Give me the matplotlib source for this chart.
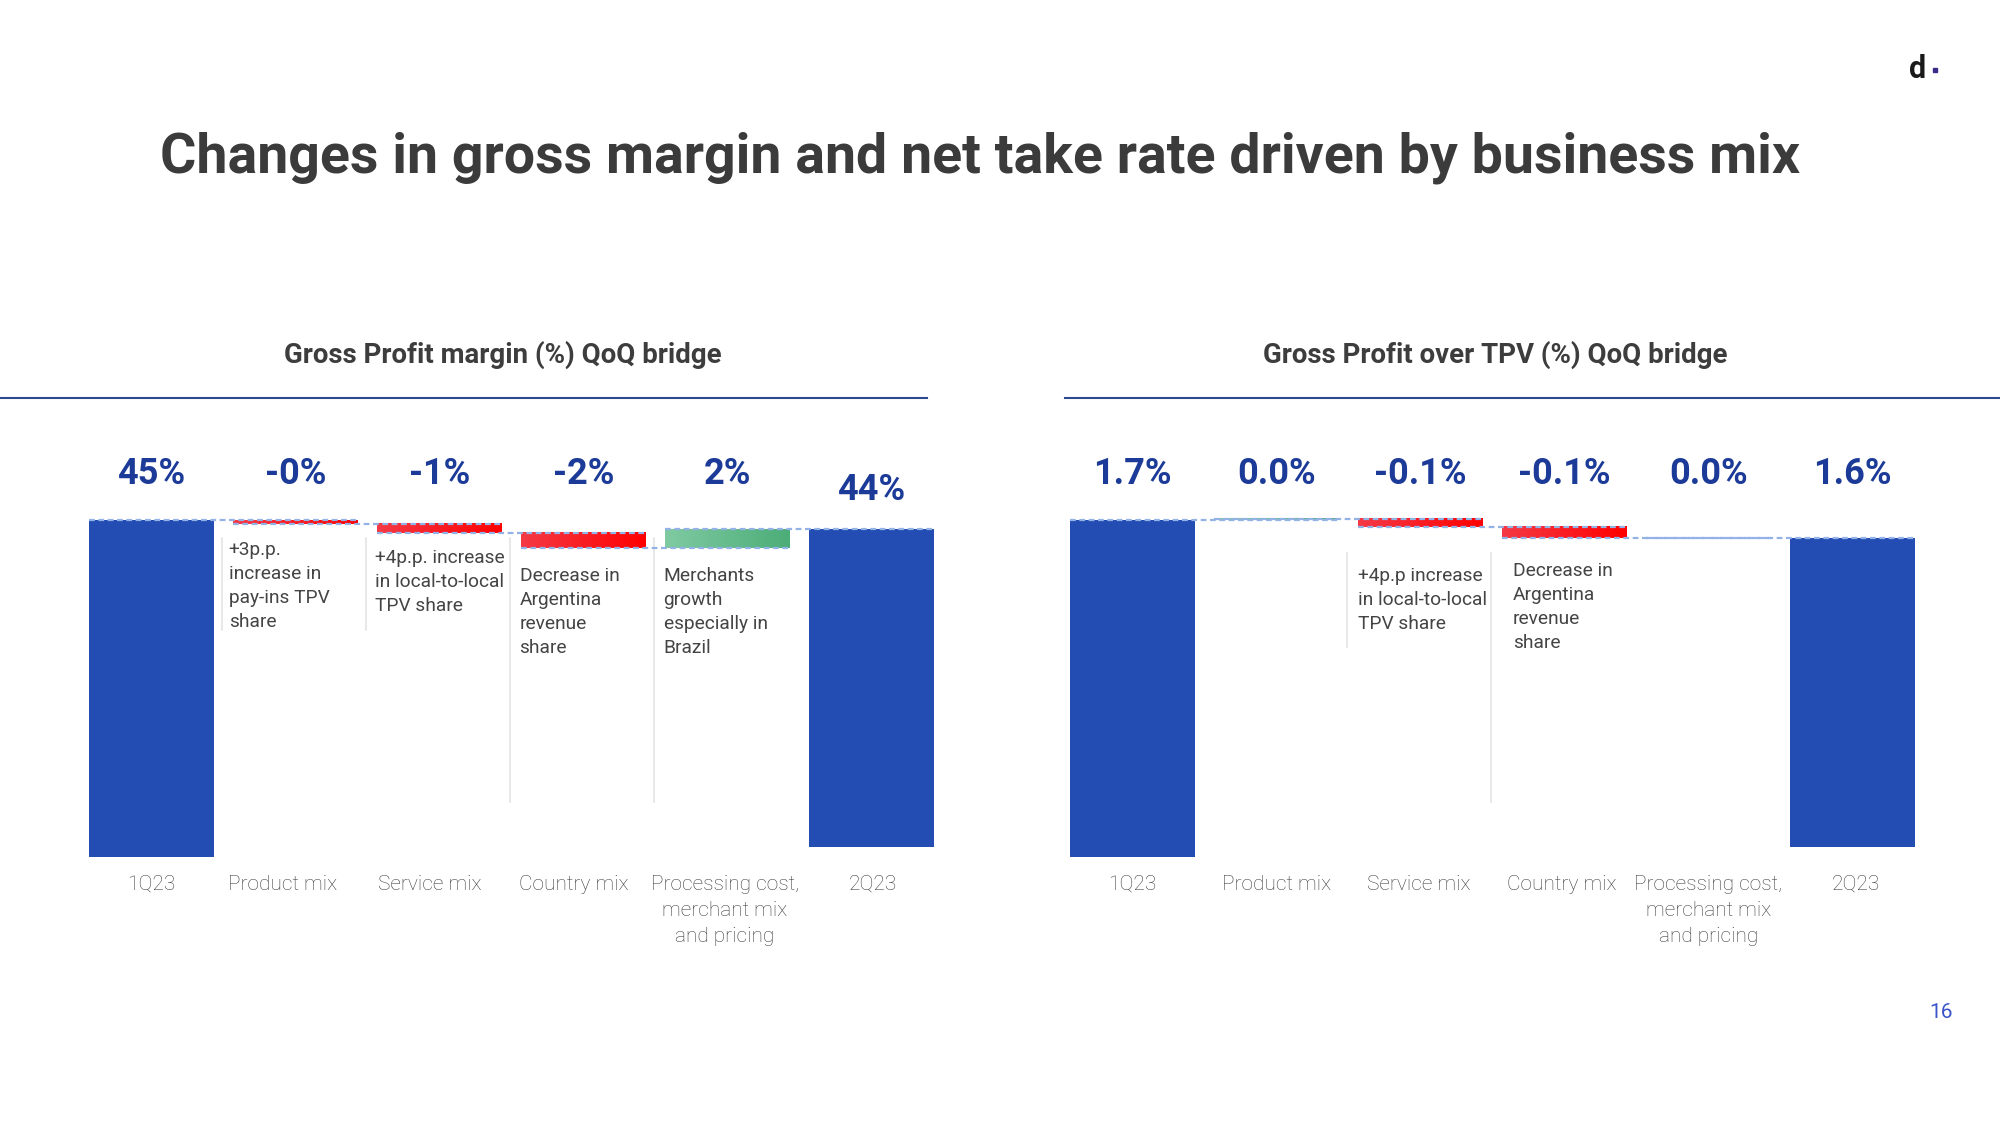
import matplotlib
matplotlib.use("Agg")
import matplotlib.pyplot as plt
import numpy as np
from matplotlib.colors import LinearSegmentedColormap
from matplotlib.transforms import blended_transform_factory
from matplotlib.lines import Line2D
from matplotlib.patches import Rectangle

# ---------------- data ----------------
categories = ["1Q23", "Product mix", "Service mix", "Country mix",
              "Processing cost,\nmerchant mix\nand pricing", "2Q23"]

gm_start = 45.0
gm_deltas = [-0.45, -1.15, -1.9, 2.35]
gm_end = 43.85

tr_start = 1.72
tr_deltas = [0.01, -0.06, -0.08, 0.0]
tr_end = 1.59

gm_notes = ["+3p.p.\nincrease in\npay-ins TPV\nshare",
            "+4p.p. increase\nin local-to-local\nTPV share",
            "Decrease in\nArgentina\nrevenue\nshare",
            "Merchants\ngrowth\nespecially in\nBrazil"]
tr_notes = ["",
            "+4p.p increase\nin local-to-local\nTPV share",
            "Decrease in\nArgentina\nrevenue\nshare",
            ""]

main_title = "Changes in gross margin and net take rate driven by business mix"
gm_title = "Gross Profit margin (%) QoQ bridge"
tr_title = "Gross Profit over TPV (%) QoQ bridge"
page_number = "16"

# ---------------- style ----------------
FONT = ["Roboto", "DejaVu Sans"]
plt.rcParams["font.family"] = FONT
W, H = 2000, 1125
BLUE_BAR = "#244db3"
VAL_COL = "#1c3a98"
TXT_COL = "#444444"
DASH_COL = "#93b2e6"
red_cmap = LinearSegmentedColormap.from_list("r", ["#f43a46", "#ff0000"])
green_cmap = LinearSegmentedColormap.from_list("g", ["#80caa2", "#4cad78"])

fig = plt.figure(figsize=(20, 11.25), dpi=100)
fig.patch.set_facecolor("white")


def fx(px):
    return px / W


def fy(py):
    return 1 - py / H


def draw_chart(ax_left_px, start, deltas, end, px_per_unit, fmt, notes,
               note_tops, note_dx, note_line_spans, end_label_base, title,
               title_cx, rule_span, cat_dx):
    ax_bottom_px, ax_top_px = 857, 457
    ax = fig.add_axes([fx(ax_left_px), fy(ax_bottom_px), 864 / W,
                       (ax_bottom_px - ax_top_px) / H])
    lo = start - (ax_bottom_px - 520) / px_per_unit
    hi = lo + (ax_bottom_px - ax_top_px) / px_per_unit
    ax.set_xlim(-0.5, 5.5)
    ax.set_ylim(lo, hi)
    ax.axis("off")
    bw = 0.868
    n = len(categories)
    x = np.arange(n)

    # total bars
    ax.bar(x[0], start - lo, bottom=lo, width=bw, color=BLUE_BAR, zorder=2)
    end_bottom = lo + 10 / px_per_unit
    ax.bar(x[-1], end - end_bottom, bottom=end_bottom, width=bw,
           color=BLUE_BAR, zorder=2)

    # delta bars with gradient
    levels = [start]
    cur = start
    grad = np.linspace(0, 1, 256).reshape(1, -1)
    for i, d in enumerate(deltas):
        xi = x[i + 1]
        nxt = cur + d
        y0, y1 = min(cur, nxt), max(cur, nxt)
        if d != 0:
            ax.bar(xi, y1 - y0, bottom=y0, width=bw, color="none", zorder=2)
            cmap = green_cmap if d > 0 else red_cmap
            ax.imshow(grad, extent=[xi - bw / 2, xi + bw / 2, y0, y1],
                      cmap=cmap, aspect="auto", zorder=2,
                      interpolation="bilinear")
        cur = nxt
        levels.append(cur)
    ax.set_xlim(-0.5, 5.5)
    ax.set_ylim(lo, hi)

    # dashed connectors
    for i, lev in enumerate(levels):
        ax.plot([x[i] - bw / 2, x[i + 1] + bw / 2], [lev, lev],
                color=DASH_COL, lw=1.6, dashes=(2.6, 1.6), zorder=3)

    # value labels
    tb = blended_transform_factory(ax.transData, fig.transFigure)
    vals = [start] + list(deltas) + [end]
    for i, v in enumerate(vals):
        base = end_label_base if i == n - 1 else 484
        ax.text(x[i], fy(base), fmt.format(v), transform=tb, ha="center",
                va="baseline", fontsize=26, fontweight="bold", color=VAL_COL)

    # category labels
    for i, c in enumerate(categories):
        ax.text(x[i] + cat_dx[i], fy(875), c, transform=tb, ha="center",
                va="top", fontsize=15, fontweight="light", color="#3e3e3e",
                linespacing=1.45)

    # notes
    for i, note in enumerate(notes):
        if not note:
            continue
        xi = x[i + 1]
        left = xi - bw / 2
        ax.text(left + note_dx[i], fy(note_tops[i]), note, transform=tb,
                ha="left", va="top", fontsize=13.8, color=TXT_COL,
                linespacing=1.42)
        t0, t1 = note_line_spans[i]
        ax.add_line(Line2D([left - 0.075, left - 0.075], [fy(t0), fy(t1)],
                           transform=tb, color="#e8e8e8", lw=1.4, zorder=1))

    # subtitle + rule
    fig.text(fx(title_cx), fy(355), title, ha="center", va="center",
             fontsize=19.9, fontweight="bold", color="#3d3d3d")
    fig.add_artist(Line2D([fx(rule_span[0]), fx(rule_span[1])],
                          [fy(398), fy(398)], color="#2d4a8e", lw=1.5))
    return ax


draw_chart(79.5, gm_start, gm_deltas, gm_end, 8.0, "{:.0f}%", gm_notes,
           note_tops=[541, 549, 567, 567],
           note_dx=[-0.03, -0.015, -0.01, -0.01],
           note_line_spans=[(538, 630), (538, 630), (538, 802), (538, 802)],
           end_label_base=500, title=gm_title, title_cx=503,
           rule_span=(0, 927),
           cat_dx=[0, -0.09, -0.07, -0.066, -0.018, 0.01])

draw_chart(1060.5, tr_start, tr_deltas, tr_end, 138.5, "{:.1f}%", tr_notes,
           note_tops=[0, 567, 562, 0],
           note_dx=[0, 0.0, 0.075, 0],
           note_line_spans=[None, (553, 647), (553, 802), None],
           end_label_base=484, title=tr_title, title_cx=1495,
           rule_span=(1065, 2000),
           cat_dx=[0, 0, -0.015, -0.02, 0, 0.02])

# main title
fig.text(fx(980), fy(158), main_title, ha="center", va="center",
         fontsize=40, fontweight="bold", color="#3b3b3b")

# logo
fig.text(fx(1909), fy(78), "d", ha="left", va="baseline", fontsize=22,
         fontweight="bold", color="#1a1a1a")
fig.add_artist(Rectangle((fx(1933), fy(72)), 4 / W, 4 / H,
                         transform=fig.transFigure, color="#3a2d8a"))

# page number
fig.text(fx(1941), fy(1012), page_number, ha="center", va="center",
         fontsize=15, color="#3b55c9")

fig.savefig("out.png", dpi=100, facecolor="white")
